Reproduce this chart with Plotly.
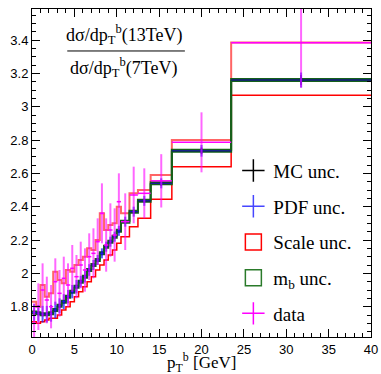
import plotly.graph_objects as go

# bin edges (GeV)
edges = [0, 0.5, 1, 1.5, 2, 2.5, 3, 3.5, 4, 4.5, 5, 5.5, 6, 6.5, 7, 7.5, 8, 8.5,
         9, 9.5, 10, 10.5, 11.5, 12.5, 14, 16.5, 23.5, 40]

mc_central = [1.765, 1.76, 1.755, 1.755, 1.76, 1.78, 1.805, 1.83, 1.86, 1.89, 1.92,
              1.95, 1.98, 2.02, 2.05, 2.08, 2.12, 2.16, 2.19, 2.22, 2.255, 2.31,
              2.37, 2.435, 2.54, 2.735, 3.16]
mc_err = [0.015, 0.012, 0.012, 0.012, 0.012, 0.012, 0.012, 0.012, 0.012, 0.012,
          0.012, 0.012, 0.012, 0.012, 0.012, 0.012, 0.012, 0.012, 0.012, 0.012,
          0.012, 0.012, 0.012, 0.012, 0.015, 0.02, 0.03]
pdf_err = [0.05, 0.05, 0.05, 0.05, 0.05, 0.05, 0.045, 0.045, 0.04, 0.04, 0.04,
           0.035, 0.035, 0.035, 0.03, 0.03, 0.03, 0.03, 0.03, 0.03, 0.03, 0.03,
           0.03, 0.03, 0.03, 0.035, 0.045]
scale_up = [1.83, 1.80, 1.93, 1.86, 1.88, 2.01, 1.96, 1.94, 2.02, 2.01, 2.05, 2.08,
            2.10, 2.15, 2.14, 2.20, 2.36, 2.26, 2.29, 2.30, 2.40, 2.36, 2.48, 2.50,
            2.59, 2.80, 3.385]
scale_down = [1.71, 1.70, 1.71, 1.72, 1.73, 1.73, 1.75, 1.78, 1.80, 1.83, 1.86, 1.89,
              1.92, 1.95, 1.98, 2.02, 2.05, 2.08, 2.11, 2.14, 2.18, 2.22, 2.28, 2.33,
              2.445, 2.64, 3.068]
mb_up = [1.771, 1.766, 1.761, 1.761, 1.766, 1.786, 1.811, 1.836, 1.866, 1.896, 1.926,
         1.956, 1.986, 2.026, 2.056, 2.086, 2.126, 2.166, 2.196, 2.226, 2.261, 2.316,
         2.376, 2.441, 2.546, 2.741, 3.166]
mb_down = [1.759, 1.754, 1.749, 1.749, 1.754, 1.774, 1.799, 1.824, 1.854, 1.884, 1.914,
           1.944, 1.974, 2.014, 2.044, 2.074, 2.114, 2.154, 2.184, 2.214, 2.249, 2.304,
           2.364, 2.429, 2.534, 2.729, 3.154]
data = [1.70, 1.80, 1.90, 1.84, 1.80, 1.95, 1.88, 1.97, 1.93, 2.03, 1.98, 2.05,
        2.02, 2.10, 2.12, 2.19, 2.36, 2.17, 2.26, 2.23, 2.43, 2.31, 2.47, 2.48,
        2.555, 2.786, 3.384]
data_err = [0.12, 0.14, 0.16, 0.14, 0.13, 0.14, 0.14, 0.13, 0.13, 0.14, 0.13, 0.14,
            0.13, 0.14, 0.15, 0.14, 0.18, 0.16, 0.16, 0.16, 0.17, 0.17, 0.17, 0.15,
            0.16, 0.18, 0.27]

x_ticks = [0, 5, 10, 15, 20, 25, 30, 35, 40]
y_ticks = [1.8, 2.0, 2.2, 2.4, 2.6, 2.8, 3.0, 3.2, 3.4]
y_ticktext = ["1.8", "2", "2.2", "2.4", "2.6", "2.8", "3", "3.2", "3.4"]

centers = [(a + b) / 2 for a, b in zip(edges[:-1], edges[1:])]
halfw = [(b - a) / 2 for a, b in zip(edges[:-1], edges[1:])]

GREEN = "#15601a"
fig = go.Figure()


def step(vals, color, width):
    fig.add_trace(go.Scatter(x=edges, y=list(vals) + [vals[-1]], mode="lines",
                             line=dict(color=color, width=width, shape="hv"),
                             showlegend=False, hoverinfo="skip"))


step(scale_up, "rgba(255,50,50,0.75)", 2)
step(scale_down, "rgb(255,0,0)", 1.5)
step(mb_up, GREEN, 2)
step(mb_down, GREEN, 2)


def errs(y, ey, color_x, color_y, wx, wy):
    fig.add_trace(go.Scatter(
        x=centers, y=y, mode="markers", marker=dict(size=1, color=color_x),
        error_x=dict(type="data", array=halfw, color=color_x, thickness=wx, width=0),
        error_y=dict(type="data", array=ey, color=color_y, thickness=wy, width=0),
        showlegend=False, hoverinfo="skip"))


errs(mc_central, mc_err, "black", "black", 1, 1.5)
errs(mc_central, pdf_err, "rgba(30,30,255,0.75)", "rgba(30,30,255,0.75)", 1, 2)
errs(data, data_err, "rgb(255,0,255)", "rgba(255,0,255,0.6)", 1.5, 2)

# legend entries
leg = [("MC unc.", "cross-thin-open", "black"),
       ("PDF unc.", "cross-thin-open", "rgb(70,70,255)"),
       ("Scale unc.", "square-open", "red"),
       ("m<sub>b</sub> unc.", "square-open", "#2a7a2a"),
       ("data", "cross-thin-open", "magenta")]
for i, (nm, sym, col) in enumerate(leg):
    fig.add_trace(go.Scatter(x=[None], y=[None], mode="markers", name=nm,
                             legendgroup=str(i),
                             marker=dict(symbol=sym, size=16, color=col,
                                         line=dict(color=col, width=1.5))))

SERIF = "Liberation Serif"
fig.update_layout(
    width=381, height=374,
    margin=dict(l=32, r=10, t=9, b=37),
    paper_bgcolor="white", plot_bgcolor="white",
    showlegend=True,
    legend=dict(x=0.594, y=0.565, xanchor="left", yanchor="top",
                bgcolor="rgba(0,0,0,0)", font=dict(family=SERIF, size=19, color="black"),
                tracegroupgap=8, itemwidth=30),
    xaxis=dict(range=[0, 40], tickvals=x_ticks, ticks="inside", ticklen=8,
               tickcolor="black", showline=True, linecolor="black", linewidth=1,
               mirror="ticks", showgrid=False, zeroline=False, automargin=False,
               minor=dict(dtick=1, ticks="inside", ticklen=4, tickcolor="black"),
               tickfont=dict(family="Liberation Sans", size=13, color="black")),
    yaxis=dict(range=[1.618, 3.586], tickvals=y_ticks, ticktext=y_ticktext,
               ticks="inside", ticklen=8, tickcolor="black", showline=True,
               linecolor="black", linewidth=1, mirror="ticks", showgrid=False,
               zeroline=False, automargin=False,
               minor=dict(dtick=0.05, tick0=0, ticks="inside", ticklen=4, tickcolor="black"),
               tickfont=dict(family="Liberation Sans", size=13, color="black")),
)

fig.add_annotation(xref="paper", yref="paper", x=0.5, y=-0.078, xanchor="center",
                   yanchor="middle", showarrow=False,
                   text="p<sub>T</sub><sup>b</sup> [GeV]",
                   font=dict(family=SERIF, size=17, color="black"))
fig.add_annotation(xref="paper", yref="paper", x=0.27, y=0.878, xanchor="center",
                   yanchor="bottom", showarrow=False,
                   text="dσ/dp<sub>T</sub><sup>b</sup>(13TeV)",
                   font=dict(family=SERIF, size=18, color="black"))
fig.add_annotation(xref="paper", yref="paper", x=0.27, y=0.865, xanchor="center",
                   yanchor="top", showarrow=False,
                   text="dσ/dp<sub>T</sub><sup>b</sup>(7TeV)",
                   font=dict(family=SERIF, size=18, color="black"))
fig.add_shape(type="line", xref="paper", yref="paper", x0=0.104, x1=0.451,
              y0=0.872, y1=0.872, line=dict(color="black", width=1))

fig.write_html("out.html", config={"displayModeBar": False},
               post_script="document.body.style.margin='0px';document.body.style.overflow='hidden';")
